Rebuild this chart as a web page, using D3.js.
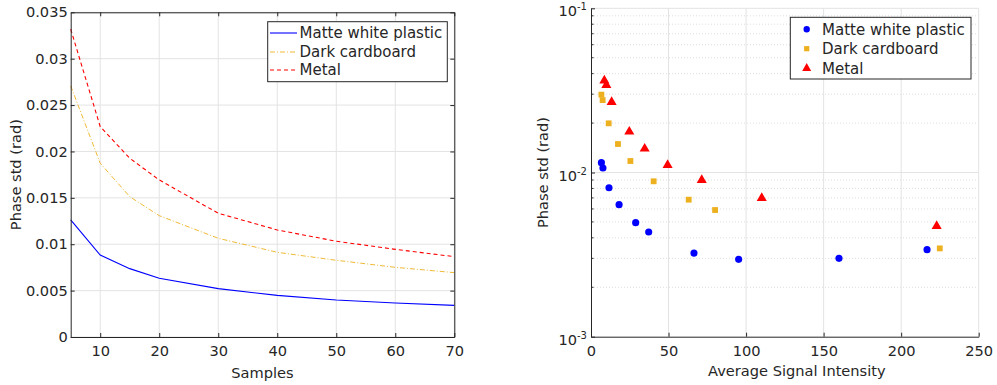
<!DOCTYPE html>
<html>
<head>
<meta charset="utf-8">
<script src="https://cdn.jsdelivr.net/npm/d3@7"></script>
<style>
  body { margin: 0; background: #fff; }
  svg text { font-family: "DejaVu Sans", Verdana, sans-serif; fill: #262626; }
</style>
</head>
<body>
<svg id="chart" width="997" height="385"></svg>
<script>
// Left panel: phase std vs number of samples
const samples = [5, 10, 15, 20, 30, 40, 50, 60, 70];
const plasticStd = [0.01262, 0.00884, 0.00737, 0.00633, 0.00521, 0.00449, 0.00399, 0.00367, 0.00341];
const cardboardStd = [0.02707, 0.01873, 0.01513, 0.01308, 0.01064, 0.00913, 0.00827, 0.00751, 0.00694];
const metalStd = [0.03318, 0.02268, 0.01927, 0.01693, 0.01334, 0.01154, 0.01032, 0.00945, 0.00866];

// Right panel: phase std vs average signal intensity
const plasticIntensity = [6.7, 7.7, 11.6, 18.1, 28.8, 37.2, 66.4, 95.2, 159.9, 216.7];
const plasticPhase = [0.01148, 0.01065, 0.00808, 0.00637, 0.00495, 0.00434, 0.00323, 0.00296, 0.00300, 0.00339];
const cardboardIntensity = [6.7, 7.5, 11.4, 17.4, 25.4, 40.4, 63.0, 80.0, 224.9];
const cardboardPhase = [0.0298, 0.0276, 0.01993, 0.01491, 0.01175, 0.00884, 0.00683, 0.00591, 0.00345];
const metalIntensity = [8.6, 9.9, 13.3, 24.7, 34.6, 49.4, 71.4, 110.1, 222.9];
const metalPhase = [0.03626, 0.0341, 0.02688, 0.01772, 0.01396, 0.01111, 0.00900, 0.00699, 0.00472];

const seriesNames = ['Matte white plastic', 'Dark cardboard', 'Metal'];
const xTicksLeft = [10, 20, 30, 40, 50, 60, 70];
const yTicksLeft = [0, 0.005, 0.01, 0.015, 0.02, 0.025, 0.03, 0.035];
const xTicksRight = [0, 50, 100, 150, 200, 250];
const yTicksRight = [1e-3, 1e-2, 1e-1];

const colors = ['#0000ff', '#edb120', '#ff0000'];
const axisColor = '#262626';
const gridColor = '#e3e3e3';
const fontSize = 14.6;

const svg = d3.select('#chart');

// ---------- left panel ----------
const L = { left: 70.7, right: 454.3, top: 12.3, bottom: 337 };
const xL = d3.scaleLinear().domain([5, 70]).range([L.left, L.right]);
const yL = d3.scaleLinear().domain([0, 0.035]).range([L.bottom, L.top]);
const gL = svg.append('g');

// grid
gL.append('g').selectAll('line').data(xTicksLeft).join('line')
  .attr('x1', d => xL(d)).attr('x2', d => xL(d))
  .attr('y1', L.top).attr('y2', L.bottom)
  .attr('stroke', gridColor).attr('stroke-width', 1);
gL.append('g').selectAll('line').data(yTicksLeft).join('line')
  .attr('x1', L.left).attr('x2', L.right)
  .attr('y1', d => yL(d)).attr('y2', d => yL(d))
  .attr('stroke', gridColor).attr('stroke-width', 1);

// lines
const leftSeries = [plasticStd, cardboardStd, metalStd];
const dashes = [null, '5,2,1,2', '4,3'];
const lineGen = d3.line().x((d, i) => xL(samples[i])).y(d => yL(d));
leftSeries.forEach((vals, i) => {
  gL.append('path')
    .datum(vals)
    .attr('d', lineGen)
    .attr('fill', 'none')
    .attr('stroke', colors[i])
    .attr('stroke-width', i === 1 ? 0.9 : 1.1)
    .attr('stroke-dasharray', dashes[i]);
});

// axes (box on, ticks inward)
const axBottom = gL.append('g').attr('transform', `translate(0,${L.bottom})`)
  .call(d3.axisBottom(xL).tickValues(xTicksLeft).tickSizeInner(-4).tickSizeOuter(0).tickPadding(9));
const axTop = gL.append('g').attr('transform', `translate(0,${L.top})`)
  .call(d3.axisTop(xL).tickValues(xTicksLeft).tickSizeInner(-4).tickSizeOuter(0).tickFormat(''));
const axLeft = gL.append('g').attr('transform', `translate(${L.left},0)`)
  .call(d3.axisLeft(yL).tickValues(yTicksLeft).tickSizeInner(-4).tickSizeOuter(0).tickPadding(3)
    .tickFormat(d => d === 0 ? '0' : d3.format('')(+d.toFixed(3))));
const axRight = gL.append('g').attr('transform', `translate(${L.right},0)`)
  .call(d3.axisRight(yL).tickValues(yTicksLeft).tickSizeInner(-4).tickSizeOuter(0).tickFormat(''));
[axBottom, axTop, axLeft, axRight].forEach(a => {
  a.select('.domain').attr('stroke', axisColor);
  a.selectAll('.tick line').attr('stroke', axisColor);
  a.selectAll('text').style('font-size', fontSize + 'px').attr('fill', axisColor);
});

gL.append('text')
  .attr('x', (L.left + L.right) / 2).attr('y', 378)
  .attr('text-anchor', 'middle').style('font-size', fontSize + 'px')
  .text('Samples');
gL.append('text')
  .attr('transform', `translate(21,${(L.top + L.bottom) / 2}) rotate(-90)`)
  .attr('text-anchor', 'middle').style('font-size', fontSize + 'px')
  .text('Phase std (rad)');

// legend
const legL = gL.append('g');
legL.append('rect')
  .attr('x', 267.7).attr('y', 21.7).attr('width', 179.6).attr('height', 60)
  .attr('fill', '#fff').attr('stroke', axisColor).attr('stroke-width', 1);
const legLRows = [33, 52, 70];
seriesNames.forEach((name, i) => {
  legL.append('line')
    .attr('x1', 270).attr('x2', 297).attr('y1', legLRows[i]).attr('y2', legLRows[i])
    .attr('stroke', colors[i]).attr('stroke-width', i === 1 ? 0.9 : 1.1)
    .attr('stroke-dasharray', dashes[i]);
  legL.append('text')
    .attr('x', 299.5).attr('y', legLRows[i]).attr('dy', '0.35em')
    .style('font-size', '15px').text(name);
});

// ---------- right panel ----------
const R = { left: 591, right: 978.7, top: 8.3, bottom: 336.7 };
const xR = d3.scaleLinear().domain([0, 250]).range([R.left, R.right]);
const yR = d3.scaleLog().domain([1e-3, 1e-1]).range([R.bottom, R.top]);
const gR = svg.append('g');

const minorTicks = [];
[1e-3, 1e-2].forEach(dec => { for (let k = 2; k <= 9; k++) minorTicks.push(dec * k); });

gR.append('g').selectAll('line').data(minorTicks).join('line')
  .attr('x1', R.left).attr('x2', R.right)
  .attr('y1', d => yR(d)).attr('y2', d => yR(d))
  .attr('stroke', '#d6d6d6').attr('stroke-width', 0.8).attr('stroke-dasharray', '1,2');
gR.append('g').selectAll('line').data(xTicksRight.slice(1)).join('line')
  .attr('x1', d => xR(d)).attr('x2', d => xR(d))
  .attr('y1', R.top).attr('y2', R.bottom)
  .attr('stroke', gridColor).attr('stroke-width', 1);
gR.append('g').selectAll('line').data(yTicksRight.slice(1)).join('line')
  .attr('x1', R.left).attr('x2', R.right)
  .attr('y1', d => yR(d)).attr('y2', d => yR(d))
  .attr('stroke', gridColor).attr('stroke-width', 1);

// axes (box off, ticks inward)
const axRB = gR.append('g').attr('transform', `translate(0,${R.bottom})`)
  .call(d3.axisBottom(xR).tickValues(xTicksRight).tickSizeInner(-4).tickSizeOuter(0).tickPadding(9));
const axRL = gR.append('g').attr('transform', `translate(${R.left},0)`)
  .call(d3.axisLeft(yR).tickValues(yTicksRight).tickSizeInner(-4).tickSizeOuter(0).tickFormat(''));
gR.append('g').selectAll('line').data(minorTicks).join('line')
  .attr('x1', R.left).attr('x2', R.left + 2.5)
  .attr('y1', d => yR(d)).attr('y2', d => yR(d))
  .attr('stroke', axisColor);
[axRB, axRL].forEach(a => {
  a.select('.domain').attr('stroke', axisColor);
  a.selectAll('.tick line').attr('stroke', axisColor);
  a.selectAll('text').style('font-size', fontSize + 'px').attr('fill', axisColor);
});

// power-of-ten labels
yTicksRight.forEach(v => {
  const t = gR.append('text')
    .attr('x', R.left - 4).attr('y', yR(v) + 8)
    .attr('text-anchor', 'end').style('font-size', fontSize + 'px');
  t.append('tspan').text('10');
  t.append('tspan').attr('dy', -6).style('font-size', '10px').text(String(Math.round(Math.log10(v))));
});

gR.append('text')
  .attr('x', (R.left + R.right) / 2 + 12).attr('y', 376)
  .attr('text-anchor', 'middle').style('font-size', fontSize + 'px')
  .text('Average Signal Intensity');
gR.append('text')
  .attr('transform', `translate(548,${(R.top + R.bottom) / 2}) rotate(-90)`)
  .attr('text-anchor', 'middle').style('font-size', fontSize + 'px')
  .text('Phase std (rad)');

// markers
const symbols = [d3.symbolCircle, d3.symbolSquare, d3.symbolTriangle];
const symSizes = [40, 34, 44];
const rightSeries = [
  [plasticIntensity, plasticPhase],
  [cardboardIntensity, cardboardPhase],
  [metalIntensity, metalPhase]
];
rightSeries.forEach(([xs, ys], i) => {
  gR.append('g').selectAll('path').data(xs).join('path')
    .attr('transform', (d, j) => `translate(${xR(d)},${yR(ys[j])})`)
    .attr('d', d3.symbol().type(symbols[i]).size(symSizes[i]))
    .attr('fill', colors[i]);
});

// legend
const legR = gR.append('g');
legR.append('rect')
  .attr('x', 790.3).attr('y', 17.3).attr('width', 180.7).attr('height', 61.7)
  .attr('fill', '#fff').attr('stroke', axisColor).attr('stroke-width', 1);
const legRRows = [29.3, 48.7, 68.3];
seriesNames.forEach((name, i) => {
  legR.append('path')
    .attr('transform', `translate(806.7,${legRRows[i]})`)
    .attr('d', d3.symbol().type(symbols[i]).size(symSizes[i] * 0.8))
    .attr('fill', colors[i]);
  legR.append('text')
    .attr('x', 822).attr('y', legRRows[i]).attr('dy', '0.35em')
    .style('font-size', '15px').text(name);
});
</script>
</body>
</html>
